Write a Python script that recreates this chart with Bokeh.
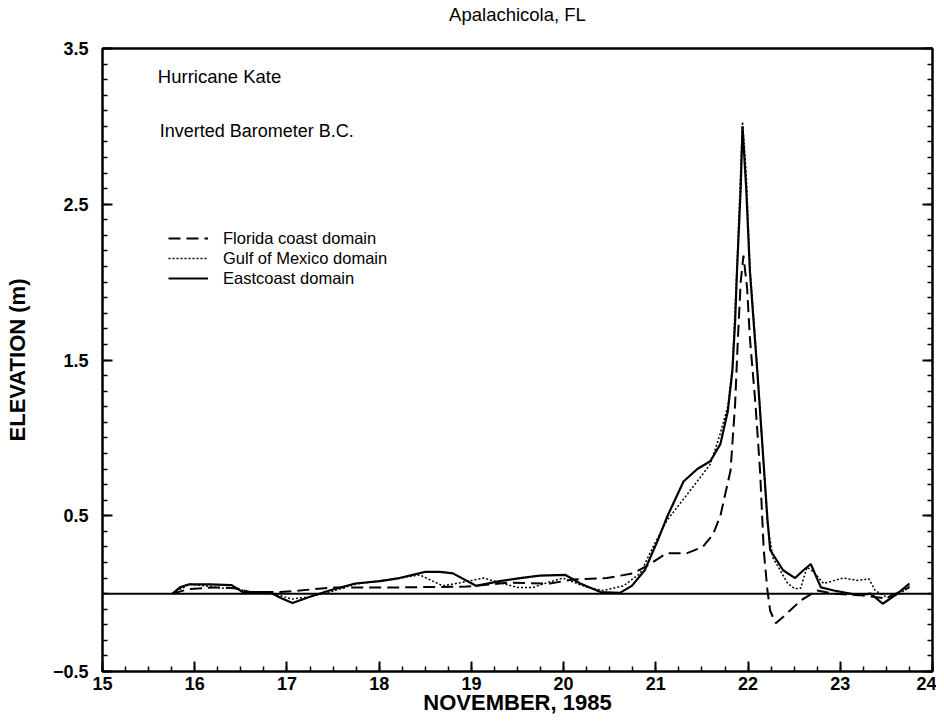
from bokeh.plotting import figure
from bokeh.models import FixedTicker, LinearAxis, Span, Label, Legend, LegendItem
from bokeh.embed import file_html
from bokeh.resources import INLINE

# --- data (days of November 1985, elevation in m) ---
east_day = [15.76, 15.84, 15.94, 16.16, 16.40, 16.52, 16.81, 16.94, 17.06, 17.25, 17.46, 17.74,
            18.01, 18.22, 18.50, 18.66, 18.80, 19.05, 19.31, 19.53, 19.74, 20.02, 20.18, 20.40,
            20.61, 20.74, 20.88, 21.02, 21.12, 21.30, 21.45, 21.59, 21.70, 21.78, 21.83, 21.86,
            21.88, 21.92, 21.94, 21.98, 22.02, 22.10, 22.15, 22.21, 22.24, 22.38, 22.51, 22.60,
            22.68, 22.79, 22.93, 23.19, 23.33, 23.46, 23.62, 23.75]
east_val = [0.0, 0.04, 0.06, 0.06, 0.055, 0.01, 0.01, -0.03, -0.06, -0.02, 0.02, 0.065,
            0.08, 0.10, 0.14, 0.14, 0.13, 0.05, 0.08, 0.10, 0.115, 0.12, 0.065, 0.01,
            0.005, 0.05, 0.15, 0.34, 0.49, 0.72, 0.80, 0.85, 0.96, 1.17, 1.43, 1.75,
            2.07, 2.60, 3.00, 2.60, 2.07, 1.43, 1.00, 0.48, 0.28, 0.15, 0.10, 0.15,
            0.19, 0.04, 0.02, -0.01, 0.0, -0.065, 0.0, 0.065]

gulf_day = [15.76, 15.94, 16.11, 16.29, 16.45, 16.56, 16.81, 17.06, 17.25, 17.46, 17.74, 18.22,
            18.44, 18.69, 18.88, 19.13, 19.31, 19.50, 19.67, 19.82, 19.99, 20.26, 20.43, 20.65,
            20.83, 20.97, 21.12, 21.37, 21.59, 21.70, 21.78, 21.83, 21.88, 21.94, 21.98, 22.02,
            22.10, 22.15, 22.21, 22.27, 22.43, 22.51, 22.57, 22.64, 22.71, 22.82, 23.03, 23.19,
            23.31, 23.38, 23.51, 23.65, 23.75]
gulf_val = [0.0, 0.06, 0.05, 0.035, 0.04, 0.01, 0.005, -0.035, -0.02, 0.01, 0.06, 0.10,
            0.12, 0.05, 0.07, 0.10, 0.07, 0.04, 0.04, 0.07, 0.10, 0.04, 0.02, 0.05,
            0.13, 0.30, 0.47, 0.66, 0.83, 1.03, 1.20, 1.45, 2.10, 3.03, 2.70, 2.10,
            1.45, 1.00, 0.45, 0.23, 0.065, 0.03, 0.035, 0.17, 0.14, 0.065, 0.10, 0.085,
            0.095, 0.02, -0.025, 0.0, 0.05]

flor_day = [15.76, 15.94, 16.22, 16.43, 16.60, 16.92, 17.14, 17.50, 18.22, 18.95, 19.39, 19.85,
            20.10, 20.47, 20.75, 20.91, 21.12, 21.34, 21.51, 21.62, 21.70, 21.81, 21.86, 21.89,
            21.92, 21.95, 21.99, 22.02, 22.08, 22.13, 22.17, 22.21, 22.24, 22.30, 22.38, 22.57,
            22.75, 22.93, 23.22, 23.49, 23.75]
flor_val = [0.0, 0.03, 0.04, 0.035, 0.01, 0.01, 0.02, 0.04, 0.04, 0.045, 0.07, 0.065,
            0.09, 0.10, 0.13, 0.18, 0.26, 0.26, 0.30, 0.38, 0.50, 0.79, 1.22, 1.64,
            2.00, 2.17, 1.96, 1.64, 1.22, 0.79, 0.28, 0.02, -0.11, -0.19, -0.15, -0.045,
            0.02, 0.0, -0.01, -0.03, 0.04]

x_major = [15, 16, 17, 18, 19, 20, 21, 22, 23, 24]
y_major = [-0.5, 0.5, 1.5, 2.5, 3.5]
x_minor = [round(15 + 0.25 * i, 2) for i in range(37)]
y_minor = [round(-0.5 + 0.1 * i, 2) for i in range(41)]

FONT = "Liberation Sans"

p = figure(width=936, height=721, x_range=(15, 24), y_range=(-0.5, 3.5),
           output_backend="svg", toolbar_location=None,
           x_axis_label="NOVEMBER, 1985", y_axis_label="ELEVATION (m)",
           min_border_left=102, min_border_right=4, min_border_top=47, min_border_bottom=50)
p.grid.visible = False
p.outline_line_color = "black"
p.outline_line_width = 2
p.background_fill_color = "white"
p.border_fill_color = "white"

for ax, ticks, minors in ((p.xaxis[0], x_major, x_minor), (p.yaxis[0], y_major, y_minor)):
    ax.ticker = FixedTicker(ticks=ticks, minor_ticks=minors)
    ax.major_tick_in = 10
    ax.major_tick_out = 0
    ax.minor_tick_in = 5
    ax.minor_tick_out = 0
    ax.axis_line_width = 2
    ax.major_tick_line_width = 2
    ax.minor_tick_line_width = 1.5
    ax.major_label_text_font = FONT
    ax.major_label_text_font_size = "18px"
    ax.major_label_text_color = "black"
    ax.major_label_text_font_style = "bold"
    ax.axis_label_text_font = FONT
    ax.axis_label_text_font_size = "22px"
    ax.axis_label_text_font_style = "bold"
    ax.axis_label_text_color = "black"
p.xaxis.major_label_standoff = 5
p.xaxis.axis_label_standoff = -3
p.yaxis.major_label_standoff = 14
p.yaxis.axis_label_standoff = 20

# right axis: inward ticks, no labels
rax = LinearAxis(ticker=FixedTicker(ticks=y_major, minor_ticks=y_minor),
                 major_label_overrides={t: "" for t in y_major})
rax.major_tick_in = 10
rax.major_tick_out = 0
rax.minor_tick_in = 5
rax.minor_tick_out = 0
rax.axis_line_width = 2
rax.major_tick_line_width = 2
rax.minor_tick_line_width = 1.5
rax.major_label_standoff = 0
p.add_layout(rax, "right")

# top axis: no ticks, carries the chart title
tax = LinearAxis(ticker=FixedTicker(ticks=[]), axis_label="Apalachicola, FL")
tax.axis_line_width = 2
tax.major_tick_in = 0
tax.major_tick_out = 0
tax.minor_tick_in = 0
tax.minor_tick_out = 0
tax.major_label_standoff = 0
tax.axis_label_standoff = 24
tax.axis_label_text_font = FONT
tax.axis_label_text_font_size = "18.5px"
tax.axis_label_text_font_style = "normal"
tax.axis_label_text_color = "black"
p.add_layout(tax, "above")

p.add_layout(Span(location=0, dimension="width", line_color="black", line_width=2))

r_flor = p.line(flor_day, flor_val, line_color="black", line_width=2, line_dash="12 6")
r_gulf = p.line(gulf_day, gulf_val, line_color="black", line_width=1.5, line_dash="2 2")
r_east = p.line(east_day, east_val, line_color="black", line_width=2.2)

legend = Legend(items=[LegendItem(label="Florida coast domain", renderers=[r_flor]),
                       LegendItem(label="Gulf of Mexico domain", renderers=[r_gulf]),
                       LegendItem(label="Eastcoast domain", renderers=[r_east])],
                location=(66, 383), padding=0, margin=0, spacing=0,
                glyph_width=40, glyph_height=20, label_height=20, label_standoff=15,
                label_text_font=FONT, label_text_font_size="16.5px",
                label_text_color="black",
                border_line_alpha=0, background_fill_alpha=0)
p.add_layout(legend)

def lab(x, y, t, size):
    p.add_layout(Label(x=x, y=y, text=t, text_font=FONT, text_font_size=size,
                       text_align="left", text_baseline="middle", text_color="black"))

lab(15.60, 3.32, "Hurricane Kate", "18.5px")
lab(15.62, 2.97, "Inverted Barometer B.C.", "18px")

open("out.html", "w").write(file_html(p, INLINE))
